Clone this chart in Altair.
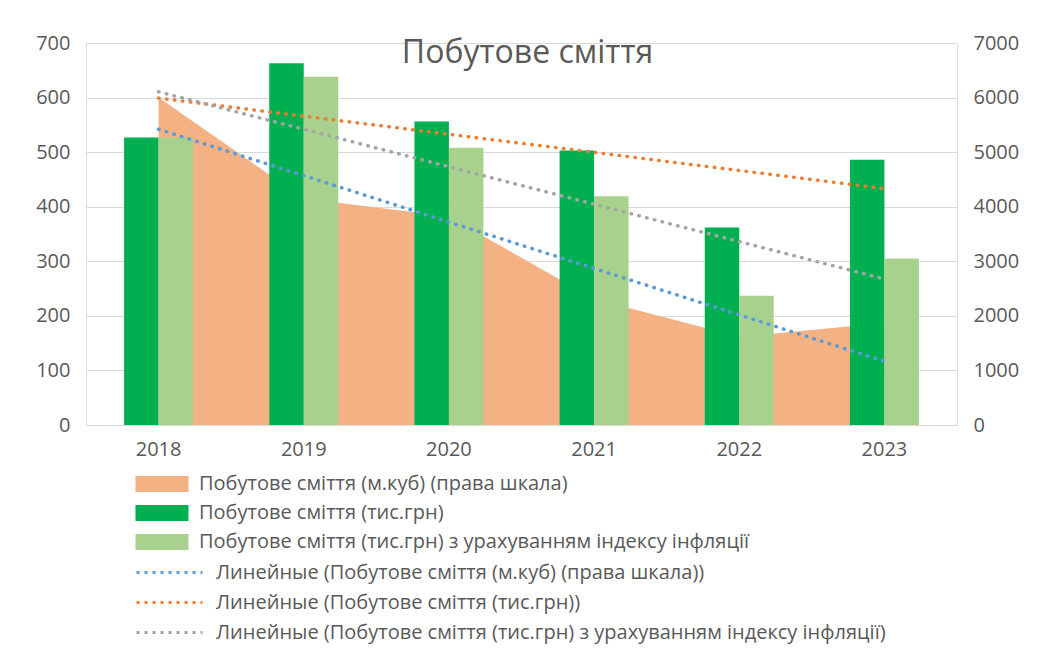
import altair as alt
import pandas as pd

years = [2018, 2019, 2020, 2021, 2022, 2023]
m3 = [6000, 4150, 3820, 2310, 1615, 1870]
paid = [527, 663, 556, 503, 362, 486]
real = [527, 638, 508, 419, 237, 305]

L_M3 = "Побутове сміття (м.куб) (права шкала)"
L_PAID = "Побутове сміття (тис.грн)"
L_REAL = "Побутове сміття (тис.грн) з урахуванням індексу інфляції"
T_M3 = "Линейные (Побутове сміття (м.куб) (права шкала))"
T_PAID = "Линейные (Побутове сміття (тис.грн))"
T_REAL = "Линейные (Побутове сміття (тис.грн) з урахуванням індексу інфляції)"

df = pd.DataFrame({"year": years, "m3": m3, "paid": paid, "real": real})

FONT = "Open Sans"
TXT = "#595959"
FS = 20
LFS = 20

x_enc = alt.X(
    "yl:N", title=None,
    scale=alt.Scale(paddingInner=0.525, paddingOuter=0.2625),
    axis=alt.Axis(labelFontSize=FS, labelColor=TXT, labelFont=FONT, labelAngle=0,
                  ticks=False, domainColor="#D9D9D9", labelPadding=14),
)

fill_scale = alt.Scale(domain=[L_M3, L_PAID, L_REAL], range=["#F4B183", "#00B050", "#A9D18E"])
fill_legend = alt.Legend(
    orient="none", legendX=66, legendY=431, title=None,
    symbolType="M-3,-0.9H3V0.9H-3Z", symbolSize=312, symbolStrokeWidth=0,
    labelFontSize=LFS, labelFont=FONT, labelColor=TXT, labelLimit=900,
    labelOffset=27, rowPadding=9,
)
stroke_scale = alt.Scale(domain=[T_M3, T_PAID, T_REAL], range=["#5B9BD5", "#ED7D31", "#A5A5A5"])
stroke_legend = alt.Legend(
    orient="none", legendX=73, legendY=519, title=None,
    symbolType="M-3.7,0H3.7", symbolSize=317, symbolStrokeWidth=3, symbolDash=[3, 5],
    labelFontSize=LFS, labelFont=FONT, labelColor=TXT, labelLimit=900,
    labelOffset=36, rowPadding=9,
)

right_y = alt.Scale(domain=[0, 7000], nice=False)
left_y = alt.Scale(domain=[0, 700], nice=False)
left_axis = alt.Axis(orient="left", values=list(range(0, 701, 100)), grid=True, gridColor="#D9D9D9",
                     ticks=False, domain=False, labelFontSize=FS, labelFont=FONT, labelColor=TXT,
                     labelPadding=16, format="d")
right_axis = alt.Axis(orient="right", values=list(range(0, 7001, 1000)), grid=False, ticks=False,
                      domain=False, labelFontSize=FS, labelFont=FONT, labelColor=TXT, labelPadding=16,
                      format="d")

base = alt.Chart(df).transform_calculate(yl="toString(datum.year)")

area = base.transform_calculate(series=f"'{L_M3}'").mark_area(opacity=1).encode(
    x=x_enc,
    y=alt.Y("m3:Q", scale=right_y, axis=right_axis, title=None),
    fill=alt.Fill("series:N", scale=fill_scale, legend=fill_legend),
)

bars = base.transform_fold(["paid", "real"], as_=["key", "value"]).transform_calculate(
    series=f"datum.key == 'paid' ? '{L_PAID}' : '{L_REAL}'"
).mark_bar().encode(
    x=x_enc,
    xOffset=alt.XOffset("series:N", scale=alt.Scale(domain=[L_PAID, L_REAL], paddingInner=0, paddingOuter=0)),
    y=alt.Y("value:Q", scale=left_y, axis=left_axis, title=None),
    fill=alt.Fill("series:N", scale=fill_scale, legend=fill_legend),
)


def trend(field, label, yscale, axis):
    return alt.Chart(df).transform_regression("year", field, method="linear").transform_calculate(
        yl="toString(datum.year)", series=f"'{label}'"
    ).mark_line(strokeDash=[0.5, 7.5], strokeCap="round", strokeWidth=3.5).encode(
        x=x_enc,
        y=alt.Y(f"{field}:Q", scale=yscale, axis=axis, title=None),
        stroke=alt.Stroke("series:N", scale=stroke_scale, legend=stroke_legend),
    )


orange = trend("paid", T_PAID, left_y, left_axis)
grey = trend("real", T_REAL, left_y, left_axis)
blue = trend("m3", T_M3, right_y, None)

chart = alt.layer(area, alt.layer(bars, orange, grey), blue).resolve_scale(y="independent").properties(
    width=871, height=382,
    autosize="none",
    padding={"left": 78, "top": 35, "right": 77, "bottom": 222},
    title=alt.TitleParams("Побутове сміття", fontSize=32, font=FONT, color=TXT, fontWeight="normal",
                          anchor="middle", baseline="alphabetic", offset=0, dy=62, dx=6),
).configure_view(stroke=None).configure(background="white")

chart.save("out.html", embed_options={"renderer": "svg", "actions": False})
